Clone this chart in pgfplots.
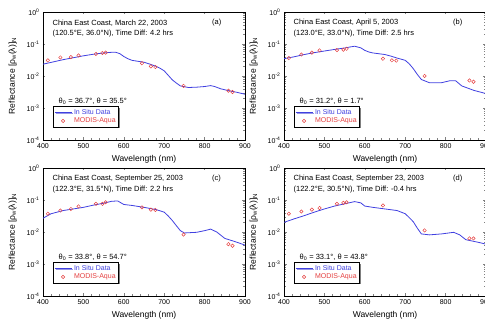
\documentclass[border=0pt]{standalone}
\usepackage{fontspec}
\setmainfont{Liberation Sans}
\usepackage{pgfplots}
\pgfplotsset{compat=1.18}
\usetikzlibrary{shadows}
\definecolor{cInsitu}{rgb}{0.25,0.25,0.88}
\definecolor{cModis}{rgb}{0.90,0.25,0.25}
\pgfplotsset{
  every axis/.append style={
    width=202pt, height=128pt, scale only axis,
    xmin=400, xmax=900, ymin=0.0001, ymax=1,
    xtick={400,500,600,700,800,900}, minor x tick num=4,
    ytick={0.0001,0.001,0.01,0.1,1},
    yticklabels={10\textsuperscript{-4},10\textsuperscript{-3},10\textsuperscript{-2},10\textsuperscript{-1},10\textsuperscript{0}},
    tick align=inside, major tick length=2.5pt, minor tick length=1.5pt,
    tick label style={font=\fontsize{7}{8}\selectfont},
    xlabel={Wavelength (nm)},
    ylabel={Reflectance [ρ\textsubscript{w}(λ)]\textsubscript{N}},
    every axis label/.append style={font=\fontsize{8.5}{9}\selectfont},
    xlabel style={at={(axis description cs:0.5,-0.15)}, anchor=center},
    ylabel style={at={(axis description cs:-0.15,0.5)}, anchor=center},
    legend cell align=left,
    legend style={at={(axis description cs:0.05,0.10)}, anchor=south west,
      font=\fontsize{7}{7}\selectfont, inner sep=0.8pt, row sep=-2pt,
      draw=black, line width=0.5pt, fill=white,
      drop shadow={shadow xshift=1.3pt, shadow yshift=-1.3pt, fill=black}},
  },
}
\newcommand{\ptext}{\fontsize{7.5}{8}\selectfont}
\tikzset{
  lInsitu/.style={color=cInsitu, line width=0.8pt},
  lModis/.style={color=cModis, mark=o, mark size=1.7pt, line width=0.5pt},
}
\begin{document}
\begin{tikzpicture}
\path[use as bounding box] (0,0) rectangle (485pt,320pt);
% (a)
\begin{semilogyaxis}[at={(43pt,180pt)}, anchor=south west, xticklabel style={/pgf/number format/assume math mode=true}]
\addplot[lInsitu, no markers] coordinates {(400,0.0234)(425,0.0275)(450,0.0324)(475,0.0372)(500,0.0427)(525,0.0479)(550,0.0525)(570,0.0550)(580,0.0550)(590,0.0501)(600,0.0407)(610,0.0347)(620,0.0309)(635,0.0288)(650,0.0269)(665,0.0234)(680,0.0200)(690,0.0174)(700,0.0145)(710,0.0105)(720,0.00759)(730,0.00603)(740,0.00490)(760,0.00437)(780,0.00447)(800,0.00468)(815,0.00501)(825,0.00468)(840,0.00398)(860,0.00347)(880,0.00309)(900,0.00269)};
\addlegendentry{\textcolor{cInsitu}{In Situ Data}}
\addplot[lModis, only marks] coordinates {(412,0.0309)(443,0.0380)(469,0.0389)(488,0.0437)(531,0.0490)(547,0.0525)(555,0.0537)(645,0.0251)(667,0.0200)(678,0.0191)(748,0.00490)(859,0.00347)(869,0.00316)};
\addlegendentry{\textcolor{cModis}{MODIS-Aqua}}
\node[anchor=west, font=\ptext] at (axis description cs:0.03,0.915) {China East Coast, March 22, 2003};
\node[anchor=west, font=\ptext] at (axis description cs:0.03,0.835) {(120.5°E, 36.0°N), Time Diff: 4.2 hrs};
\node[anchor=west, font=\ptext] at (axis description cs:0.82,0.915) {(a)};
\node[anchor=west, font=\ptext] at (axis description cs:0.06,0.30) {θ\textsubscript{0} = 36.7°, θ = 35.5°};
\end{semilogyaxis}
% (b)
\begin{semilogyaxis}[at={(284pt,180pt)}, anchor=south west, xticklabel style={/pgf/number format/assume math mode=true}]
\addplot[lInsitu, no markers] coordinates {(400,0.0347)(425,0.0398)(450,0.0468)(475,0.0537)(500,0.0603)(525,0.0676)(550,0.0750)(565,0.0813)(575,0.0851)(590,0.0759)(600,0.0631)(610,0.0562)(620,0.0525)(650,0.0468)(665,0.0417)(680,0.0363)(700,0.0309)(710,0.0240)(720,0.0170)(730,0.0112)(740,0.00776)(760,0.00617)(790,0.00617)(810,0.00708)(825,0.00708)(840,0.00490)(870,0.00355)(900,0.00282)};
\addlegendentry{\textcolor{cInsitu}{In Situ Data}}
\addplot[lModis, only marks] coordinates {(412,0.0363)(443,0.0468)(469,0.0537)(488,0.0631)(531,0.0646)(547,0.0661)(555,0.0708)(645,0.0347)(667,0.0309)(678,0.0302)(748,0.0100)(859,0.00724)(869,0.00661)};
\addlegendentry{\textcolor{cModis}{MODIS-Aqua}}
\node[anchor=west, font=\ptext] at (axis description cs:0.03,0.915) {China East Coast, April 5, 2003};
\node[anchor=west, font=\ptext] at (axis description cs:0.03,0.835) {(123.0°E, 33.0°N), Time Diff: 2.5 hrs};
\node[anchor=west, font=\ptext] at (axis description cs:0.82,0.915) {(b)};
\node[anchor=west, font=\ptext] at (axis description cs:0.06,0.30) {θ\textsubscript{0} = 31.2°, θ = 1.7°};
\end{semilogyaxis}
% (c)
\begin{semilogyaxis}[at={(43pt,24pt)}, anchor=south west, xticklabel style={/pgf/number format/assume math mode=true}]
\addplot[lInsitu, no markers] coordinates {(400,0.0269)(420,0.0372)(450,0.0468)(475,0.0525)(500,0.0589)(525,0.0692)(550,0.0794)(570,0.0912)(585,0.0933)(600,0.0724)(620,0.0676)(650,0.0589)(680,0.0501)(700,0.0417)(710,0.0316)(720,0.0229)(730,0.0158)(740,0.0110)(750,0.00933)(780,0.00977)(800,0.0110)(815,0.0123)(830,0.0100)(850,0.00631)(880,0.00479)(900,0.00389)};
\addlegendentry{\textcolor{cInsitu}{In Situ Data}}
\addplot[lModis, only marks] coordinates {(412,0.0372)(443,0.0468)(469,0.0525)(488,0.0631)(531,0.0759)(547,0.0759)(555,0.0851)(645,0.0589)(667,0.0501)(678,0.0490)(748,0.00832)(859,0.00417)(869,0.00372)};
\addlegendentry{\textcolor{cModis}{MODIS-Aqua}}
\node[anchor=west, font=\ptext] at (axis description cs:0.03,0.915) {China East Coast, September 25, 2003};
\node[anchor=west, font=\ptext] at (axis description cs:0.03,0.835) {(122.3°E, 31.5°N), Time Diff: 2.2 hrs};
\node[anchor=west, font=\ptext] at (axis description cs:0.82,0.915) {(c)};
\node[anchor=west, font=\ptext] at (axis description cs:0.06,0.30) {θ\textsubscript{0} = 33.8°, θ = 54.7°};
\end{semilogyaxis}
% (d)
\begin{semilogyaxis}[at={(284pt,24pt)}, anchor=south west, xticklabel style={/pgf/number format/assume math mode=true}]
\addplot[lInsitu, no markers] coordinates {(400,0.0200)(425,0.0257)(450,0.0324)(475,0.0417)(500,0.0525)(525,0.0646)(550,0.0759)(575,0.0891)(590,0.0813)(600,0.0646)(620,0.0589)(650,0.0525)(680,0.0468)(700,0.0372)(710,0.0282)(720,0.0209)(730,0.0132)(740,0.00871)(760,0.00813)(790,0.00871)(820,0.00977)(835,0.00813)(850,0.00575)(880,0.00479)(900,0.00417)};
\addlegendentry{\textcolor{cInsitu}{In Situ Data}}
\addplot[lModis, only marks] coordinates {(412,0.0372)(443,0.0437)(469,0.0501)(488,0.0562)(531,0.0759)(547,0.0813)(555,0.0851)(645,0.0676)(748,0.0112)(859,0.00631)(869,0.00631)};
\addlegendentry{\textcolor{cModis}{MODIS-Aqua}}
\node[anchor=west, font=\ptext] at (axis description cs:0.03,0.915) {China East Coast, September 23, 2003};
\node[anchor=west, font=\ptext] at (axis description cs:0.03,0.835) {(122.2°E, 30.5°N), Time Diff: -0.4 hrs};
\node[anchor=west, font=\ptext] at (axis description cs:0.82,0.915) {(d)};
\node[anchor=west, font=\ptext] at (axis description cs:0.06,0.30) {θ\textsubscript{0} = 33.1°, θ = 43.8°};
\end{semilogyaxis}
\end{tikzpicture}
\end{document}
